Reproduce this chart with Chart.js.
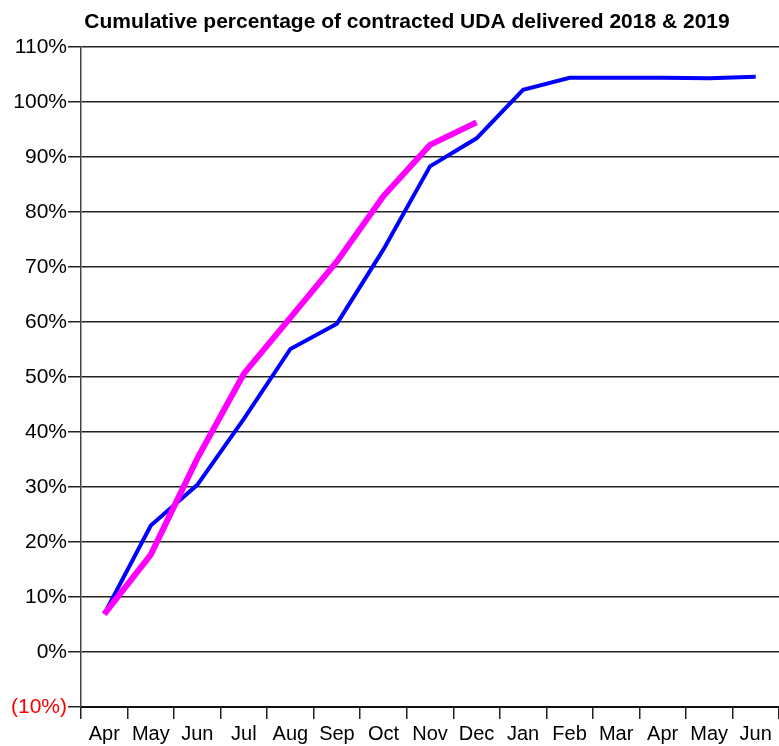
<!DOCTYPE html>
<html lang="en">
<head>
    <meta charset="UTF-8">
    <title>Cumulative UDA delivered</title>
    <script src="https://cdn.jsdelivr.net/npm/chart.js"></script>
    <style>
        html, body { margin: 0; padding: 0; background: #fff; }
        #wrap { width: 779px; height: 746px; }
    </style>
</head>
<body>
    <div id="wrap"><canvas id="udaChart"></canvas></div>
    <script>
        // months of the contract year, Apr to the following Jun
        const months = ['Apr', 'May', 'Jun', 'Jul', 'Aug', 'Sep', 'Oct', 'Nov', 'Dec', 'Jan', 'Feb', 'Mar', 'Apr', 'May', 'Jun'];

        // cumulative % of contracted UDA delivered
        const uda2018 = [6.9, 23.0, 30.4, 42.4, 55.1, 59.7, 73.2, 88.3, 93.4, 102.2, 104.4, 104.4, 104.4, 104.3, 104.6];
        const uda2019 = [6.9, 17.7, 35.2, 50.6, 60.8, 71.0, 82.9, 92.2, 96.3];

        const yTicks = [-10, 0, 10, 20, 30, 40, 50, 60, 70, 80, 90, 100, 110];

        const chartTitle = 'Cumulative percentage of contracted UDA delivered 2018 & 2019';
        const font = 'Arial, "Liberation Sans", sans-serif';

        // title sits a little right of the canvas centre
        const titlePlugin = {
            id: 'udaTitle',
            afterDraw(chart) {
                const c = chart.ctx;
                c.save();
                c.font = 'bold 21px ' + font;
                c.fillStyle = '#000';
                c.textAlign = 'center';
                c.textBaseline = 'alphabetic';
                c.fillText(chartTitle, 407, 28);
                c.restore();
            }
        };

        new Chart(document.getElementById('udaChart').getContext('2d'), {
            type: 'line',
            data: {
                labels: months,
                datasets: [{
                    label: '2018',
                    data: uda2018,
                    borderColor: '#0000ff',
                    borderWidth: 4,
                    pointRadius: 0,
                    tension: 0,
                    order: 2
                }, {
                    label: '2019',
                    data: uda2019,
                    borderColor: '#ff00ff',
                    borderWidth: 6,
                    pointRadius: 0,
                    tension: 0,
                    order: 1
                }]
            },
            plugins: [titlePlugin],
            options: {
                responsive: true,
                maintainAspectRatio: false,
                animation: false,
                layout: { padding: { left: 0, right: 0, top: 47, bottom: 0 } },
                plugins: {
                    legend: { display: false },
                    tooltip: { enabled: false },
                    title: { display: false }
                },
                scales: {
                    x: {
                        offset: true,
                        grid: {
                            drawOnChartArea: false,
                            offset: true,
                            color: '#222',
                            lineWidth: 1.5,
                            tickLength: 12
                        },
                        border: { color: '#111', width: 2 },
                        ticks: {
                            color: '#000',
                            font: { family: font, size: 20 },
                            padding: 3,
                            maxRotation: 0,
                            autoSkip: false
                        },
                        afterFit: scale => { scale.height = 39; }
                    },
                    y: {
                        min: -10,
                        max: 110,
                        afterBuildTicks: scale => {
                            scale.ticks = yTicks.map(v => ({ value: v }));
                        },
                        grid: {
                            color: '#222',
                            lineWidth: 1.5,
                            tickLength: 13
                        },
                        border: { color: '#444', width: 1.5 },
                        ticks: {
                            color: ctx => ctx.tick.value < 0 ? '#ff0000' : '#000',
                            font: { family: font, size: 21 },
                            padding: 1,
                            callback: v => v < 0 ? '(' + Math.abs(v) + '%)' : v + '%'
                        },
                        afterFit: scale => { scale.width = 81; }
                    }
                }
            }
        });
    </script>
</body>
</html>
